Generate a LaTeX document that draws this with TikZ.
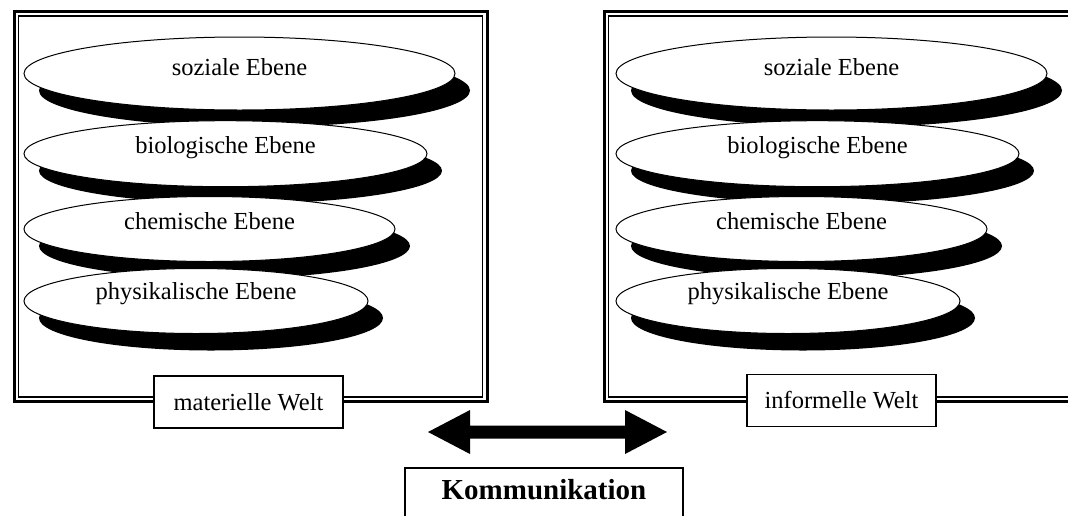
\documentclass[tikz,border=0pt]{standalone}
\usepackage{fontspec}
\setmainfont{Liberation Serif}
\usetikzlibrary{shapes.geometric,shadows}
\begin{document}
\begin{tikzpicture}[x=1pt,y=-1pt,
  layer/.style={ellipse, draw=black, line width=1pt, fill=white, inner sep=0pt,
    drop shadow={shadow xshift=15pt, shadow yshift=-17pt, fill=black, opacity=1}},
  layertext/.style={anchor=base, inner sep=0pt, font=\fontsize{24.5}{28}\selectfont},
  frameouter/.style={line width=3pt},
  frameinner/.style={line width=1.3pt},
  worldlabel/.style={draw=black, line width=1.3pt, fill=white, inner sep=0pt,
    minimum width=189pt, minimum height=52pt, font=\fontsize{24.5}{28}\selectfont},
  commbox/.style={draw=black, line width=1.3pt, fill=white, inner sep=0pt,
    minimum width=278pt, minimum height=62pt}
]
\useasboundingbox (0,0) rectangle (1068,515);
\clip (0,0) rectangle (1068,515);

% world frames: thick outer line, thin inner line
\draw[frameouter] (14,11.5) rectangle (487,401.5);
\draw[frameinner] (18.5,16) rectangle (482.5,397);
\draw[frameouter] (604,11.5) rectangle (1095,401.5);
\draw[frameinner] (608.5,16) rectangle (1090,397);

% stacked layers, material world
\node[layer, minimum width=431pt, minimum height=73pt] (mSoz) at (239.5,73.5) {};
\node[layertext] (mSozT) at ([yshift=-2pt]mSoz.center) {soziale Ebene};
\node[layer, minimum width=403pt, minimum height=66pt] (mBio) at (225.5,153.7) {};
\node[layertext] (mBioT) at ([yshift=0pt]mBio.center) {biologische Ebene};
\node[layer, minimum width=371pt, minimum height=65pt] (mChe) at (209.5,229) {};
\node[layertext] (mCheT) at ([yshift=0pt]mChe.center) {chemische Ebene};
\node[layer, minimum width=344pt, minimum height=65pt] (mPhy) at (196,301) {};
\node[layertext] (mPhyT) at ([yshift=2pt]mPhy.center) {physikalische Ebene};

% stacked layers, informational world
\node[layer, minimum width=431pt, minimum height=73pt] (iSoz) at (831.5,73.5) {};
\node[layertext] (iSozT) at ([yshift=-2pt]iSoz.center) {soziale Ebene};
\node[layer, minimum width=403pt, minimum height=66pt] (iBio) at (817.5,153.7) {};
\node[layertext] (iBioT) at ([yshift=0pt]iBio.center) {biologische Ebene};
\node[layer, minimum width=371pt, minimum height=65pt] (iChe) at (801.5,229) {};
\node[layertext] (iCheT) at ([yshift=0pt]iChe.center) {chemische Ebene};
\node[layer, minimum width=344pt, minimum height=65pt] (iPhy) at (788,301) {};
\node[layertext] (iPhyT) at ([yshift=2pt]iPhy.center) {physikalische Ebene};

% world labels on the bottom frame lines
\node[worldlabel] (matW) at (248.5,402) {materielle Welt};
\node[worldlabel] (infW) at (841.5,400.5) {informelle Welt};

% double-headed block arrow
\coordinate (kl) at (428,432);
\coordinate (kr) at (667,432);
\fill[black] (kl) -- ++(42,-22) -- ++(0,15.5) -- ++(155,0) -- ++(0,-15.5) -- (kr)
  -- ++(-42,22) -- ++(0,-15.5) -- ++(-155,0) -- ++(0,15.5) -- cycle;

% communication box
\node[commbox] (komm) at (544,499) {};
\node[anchor=base, inner sep=0pt, font=\fontsize{29}{33}\selectfont\bfseries] (kommT)
  at ([yshift=0pt]komm.center) {Kommunikation};
\end{tikzpicture}
\end{document}
